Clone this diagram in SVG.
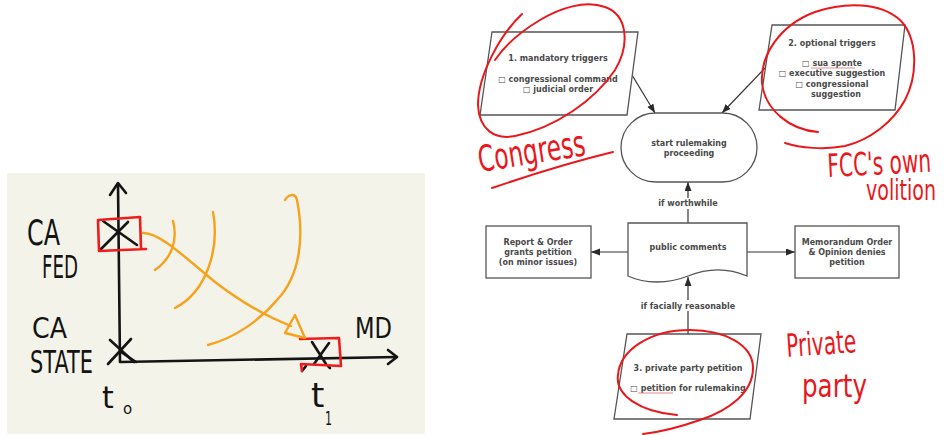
<svg xmlns="http://www.w3.org/2000/svg" width="945" height="435" viewBox="0 0 945 435">
  <defs>
    <marker id="arrow" markerUnits="userSpaceOnUse" markerWidth="10" markerHeight="8" refX="9" refY="3.5" orient="auto">
      <path d="M0,0 L9,3.5 L0,7 Z" fill="#2a2a2a"/>
    </marker>
    <style>
      .shape { fill: #ffffff; stroke: #555555; stroke-width: 1.3; }
      .lbl { font-family: "DejaVu Sans", sans-serif; font-size: 8px; font-weight: bold; fill: #4a4a4a; text-anchor: middle; }
      .conn { stroke: #333333; stroke-width: 1.2; fill: none; }
      .hand { font-family: "DejaVu Sans", sans-serif; fill: #141414; }
      .ink { fill: none; stroke: #141414; stroke-width: 2.6; stroke-linecap: round; stroke-linejoin: round; }
      .orange { fill: none; stroke: #f6a21d; stroke-width: 2.4; stroke-linecap: round; stroke-linejoin: round; }
      .redbox { fill: none; stroke: #ee1c1c; stroke-width: 2.6; stroke-linecap: round; stroke-linejoin: round; }
      .redpen { fill: none; stroke: #e8181c; stroke-width: 2; stroke-linecap: round; stroke-linejoin: round; }
      .redtext { font-family: "DejaVu Sans", sans-serif; fill: #e8181c; }
      .squiggle { stroke: #e07070; stroke-width: 0.8; fill: none; }
    </style>
  </defs>

  <rect width="945" height="435" fill="#ffffff"/>

  <!-- Left sketch: jurisdiction moving over time -->
  <g id="sketch">
    <rect x="7" y="173" width="418" height="261" fill="#f4f3e9"/>

    <!-- axes -->
    <path class="ink" d="M118,184 L120,362 L397,357"/>
    <path class="ink" d="M110,195 L118,183 L126,193"/>
    <path class="ink" d="M388,350 L397,357 L388,364"/>
    <path class="ink" d="M121,352 L136,362"/>

    <!-- marks -->
    <path class="ink" d="M103,221 L137,245 M128,222 L100,250"/>
    <path class="ink" d="M110,340 L134,362 M131,339 L108,364"/>
    <path class="ink" d="M312,342 L326,364 M329,343 L314,364 M302,371 L306,366 M328,366 L330,368"/>

    <!-- red boxes -->
    <path class="redbox" d="M98,220 L140,217 L141,249 M146,249 L99,251 L98,220"/>
    <path class="redbox" d="M300,339 L339,338 L341,366 L301,364 L302,371"/>

    <!-- orange arcs -->
    <path class="orange" d="M173,221 C178,240 172,258 155,270"/>
    <path class="orange" d="M213,212 C220,250 206,292 175,308"/>
    <path class="orange" d="M285,200 C288,195 295,192 297,200 C304,235 301,275 277,300 C260,320 235,338 208,345"/>

    <!-- orange arrow -->
    <path class="orange" d="M143,233 C160,232 190,262 215,282 C245,305 270,318 291,326"/>
    <path class="orange" d="M295,315 L305,338 L285,333 Z"/>

    <!-- labels -->
    <text class="hand" x="27" y="245" font-size="36" textLength="33" lengthAdjust="spacingAndGlyphs">CA</text>
    <text class="hand" x="42" y="278" font-size="32" textLength="36" lengthAdjust="spacingAndGlyphs">FED</text>
    <text class="hand" x="32" y="338" font-size="28" textLength="35" lengthAdjust="spacingAndGlyphs">CA</text>
    <text class="hand" x="30" y="373" font-size="32" textLength="63" lengthAdjust="spacingAndGlyphs">STATE</text>
    <text class="hand" x="355" y="338" font-size="29" textLength="37" lengthAdjust="spacingAndGlyphs">MD</text>
    <text class="hand" x="102" y="408" font-size="30">t</text>
    <text class="hand" x="123" y="414" font-size="15">o</text>
    <text class="hand" x="311" y="407" font-size="34">t</text>
    <text class="hand" x="325" y="425" font-size="20" textLength="7" lengthAdjust="spacingAndGlyphs">1</text>
  </g>

  <!-- Flowchart connectors -->
  <g id="connectors">
    <line class="conn" x1="632" y1="75" x2="655" y2="113" marker-end="url(#arrow)"/>
    <line class="conn" x1="765" y1="68" x2="722" y2="113" marker-end="url(#arrow)"/>
    <line class="conn" x1="688" y1="223" x2="688" y2="182" marker-end="url(#arrow)"/>
    <line class="conn" x1="628" y1="252" x2="591" y2="252" marker-end="url(#arrow)"/>
    <line class="conn" x1="747" y1="252" x2="795" y2="252" marker-end="url(#arrow)"/>
    <line class="conn" x1="688" y1="334" x2="688" y2="277" marker-end="url(#arrow)"/>
    <rect x="652" y="198" width="72" height="11" fill="#ffffff"/>
    <text class="lbl" x="688" y="206">if worthwhile</text>
    <rect x="634" y="300" width="108" height="11" fill="#ffffff"/>
    <text class="lbl" x="688" y="309">if facially reasonable</text>
  </g>

  <!-- Flowchart nodes -->
  <g id="mandatory-triggers">
    <polygon class="shape" points="492,32 638,32 627,115 480,115"/>
    <text class="lbl" x="558" y="61">1. mandatory triggers</text>
    <text class="lbl" x="558" y="82">□ congressional command</text>
    <text class="lbl" x="558" y="92">□ judicial order</text>
  </g>

  <g id="optional-triggers">
    <polygon class="shape" points="772,25 905,25 895,110 759,110"/>
    <text class="lbl" x="832" y="46">2. optional triggers</text>
    <text class="lbl" x="832" y="66">□ sua sponte</text>
    <path class="squiggle" d="M811,68 L855,68"/>
    <text class="lbl" x="832" y="76">□ executive suggestion</text>
    <text class="lbl" x="832" y="87">□ congressional</text>
    <text class="lbl" x="836" y="97">suggestion</text>
  </g>

  <g id="start-rulemaking">
    <rect class="shape" x="621" y="113" width="136" height="69" rx="34.5"/>
    <text class="lbl" x="689" y="146">start rulemaking</text>
    <text class="lbl" x="689" y="156">proceeding</text>
  </g>

  <g id="public-comments">
    <path class="shape" d="M628,223 H747 V276 C728,268 708,268 688,276 C668,284 645,284 628,276 Z"/>
    <text class="lbl" x="688" y="250">public comments</text>
  </g>

  <g id="report-order">
    <rect class="shape" x="486" y="226" width="105" height="52"/>
    <text class="lbl" x="538" y="245">Report &amp; Order</text>
    <text class="lbl" x="538" y="255">grants petition</text>
    <text class="lbl" x="538" y="265">(on minor issues)</text>
  </g>

  <g id="memorandum-order">
    <rect class="shape" x="795" y="226" width="104" height="52"/>
    <text class="lbl" x="847" y="245">Memorandum Order</text>
    <text class="lbl" x="847" y="255">&amp; Opinion denies</text>
    <text class="lbl" x="847" y="265">petition</text>
  </g>

  <g id="private-petition">
    <polygon class="shape" points="627,334 761,334 750,419 614,419"/>
    <text class="lbl" x="688" y="371">3. private party petition</text>
    <text class="lbl" x="688" y="391">□ petition for rulemaking</text>
    <path class="squiggle" d="M638,393 L673,393"/>
  </g>

  <!-- Red pen annotations -->
  <g id="annotations">
    <path class="redpen" d="M522,14 C500,35 478,75 478,105 C479,130 495,140 515,136 C555,128 595,100 615,70 C630,45 628,15 605,7 C585,0 560,8 540,20 C520,32 505,45 495,60"/>
    <text class="redtext" x="480" y="172" font-size="36" textLength="108" lengthAdjust="spacingAndGlyphs" transform="rotate(-9 480 172)">Congress</text>
    <path class="redpen" d="M613,152 C580,160 530,175 492,188"/>

    <path class="redpen" d="M818,132 C790,130 765,110 762,83 C760,55 780,25 815,12 C845,2 880,2 900,20 C918,38 918,75 905,100 C893,122 870,140 845,146 C825,150 800,148 785,143"/>
    <text class="redtext" x="0" y="0" font-size="32" transform="translate(828 177) rotate(-3) scale(0.63 1)">FCC's own</text>
    <text class="redtext" x="0" y="0" font-size="28" transform="translate(866 200) scale(0.68 1)">volition</text>

    <path class="redpen" d="M677,415 C640,412 615,395 618,375 C620,350 650,330 690,330 C725,330 753,345 753,368 C753,392 730,410 700,420 C680,427 660,432 643,434"/>
    <text class="redtext" x="787" y="357" font-size="32" textLength="70" lengthAdjust="spacingAndGlyphs" transform="rotate(-4 787 357)">Private</text>
    <text class="redtext" x="802" y="397" font-size="32" textLength="65" lengthAdjust="spacingAndGlyphs">party</text>
  </g>
</svg>
